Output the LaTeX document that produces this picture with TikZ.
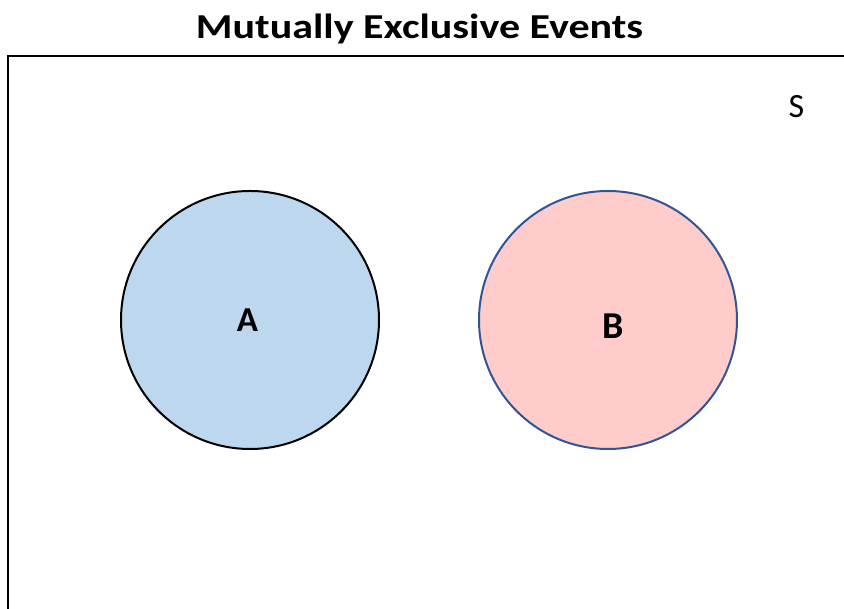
\documentclass[tikz,border=0pt]{standalone}
\usepackage{fontspec}
\setmainfont{Carlito}
\usepackage{tikz}
\definecolor{MEBlue}{HTML}{BDD7EE}
\definecolor{MEPink}{HTML}{FFCCCC}
\definecolor{MEEdge}{HTML}{2F5597}

\begin{document}
\begin{tikzpicture}[x=1pt,y=1pt]
\path[use as bounding box] (0,0) rectangle (844,609);
\clip (0,0) rectangle (844,609);
\node[anchor=base,xscale=1.2,transform shape,font=\fontsize{35}{40}\selectfont\bfseries] (title) at (419.5,570) {Mutually Exclusive Events};
\draw[line width=2.5pt] (8,-20) -- (8,553) -- (870,553);
\node[anchor=base,font=\fontsize{34}{38}\selectfont] (space) at (796.5,491) {S};
\draw[line width=2pt,fill=MEBlue] (250,289) circle (129);
\node[anchor=base,font=\fontsize{35}{40}\selectfont\bfseries] (setA) at (247.5,277) {A};
\draw[line width=2pt,MEEdge,fill=MEPink] (608,289) circle (129);
\node[anchor=base,font=\fontsize{38}{42}\selectfont\bfseries] (setB) at (613.5,270) {B};
\end{tikzpicture}
\end{document}
